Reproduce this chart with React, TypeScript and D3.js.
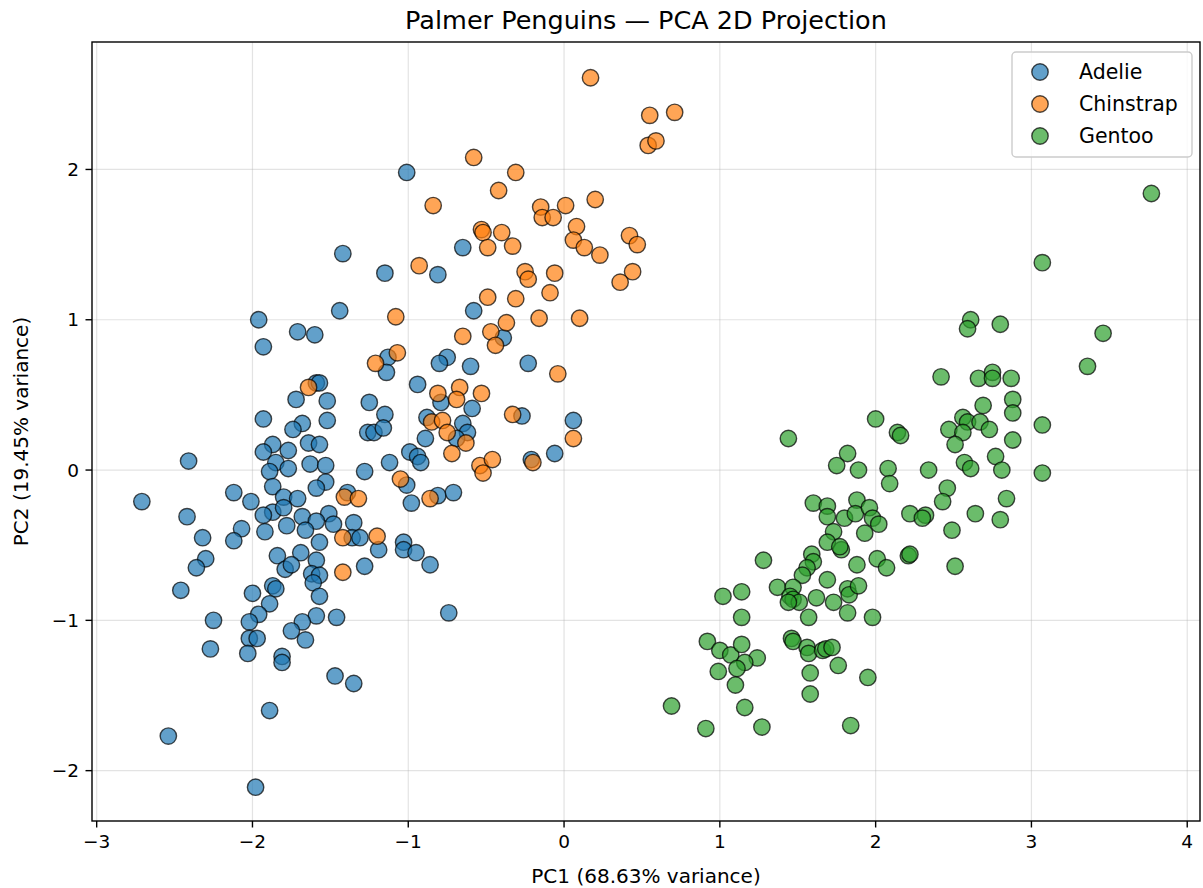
import React from "react";
import * as d3 from "d3";

const speciesNames = ["Adelie", "Chinstrap", "Gentoo"];
const speciesColors = ["#1f77b4", "#ff7f0e", "#2ca02c"];
const xTicks = [-3, -2, -1, 0, 1, 2, 3, 4];
const yTicks = [-2, -1, 0, 1, 2];

const adelie: [number, number][] = [
  [-1.01, 1.98], [-1.42, 1.44], [-1.15, 1.31], [-0.81, 1.30], [-1.44, 1.06], [-0.65, 1.48],
  [-0.58, 1.06], [-0.39, 0.88], [-1.13, 0.75], [-1.14, 0.65], [-0.75, 0.75], [-0.80, 0.71],
  [-0.60, 0.69], [-0.23, 0.71], [-0.94, 0.57], [-1.25, 0.45], [-1.52, 0.46], [-1.15, 0.37],
  [-1.52, 0.33], [-1.26, 0.25], [-1.22, 0.25], [-1.16, 0.28], [-0.88, 0.35], [-0.59, 0.41],
  [-0.79, 0.45], [-0.65, 0.31], [-0.62, 0.25], [-0.69, 0.21], [-0.27, 0.36], [0.06, 0.33],
  [-0.06, 0.11], [-0.21, 0.07], [-0.89, 0.21], [-0.99, 0.12], [-0.94, 0.09], [-0.92, 0.05],
  [-1.12, 0.05], [-1.28, -0.01], [-1.01, -0.10], [-0.98, -0.22], [-0.81, -0.17], [-0.71, -0.15],
  [-1.39, -0.15], [-1.51, -0.29], [-1.48, -0.36], [-1.35, -0.35], [-1.36, -0.45], [-1.31, -0.45],
  [-1.19, -0.53], [-1.03, -0.48], [-1.03, -0.53], [-0.95, -0.55], [-0.86, -0.63], [-1.28, -0.64],
  [-0.74, -0.95], [-1.46, -0.98], [-1.96, 1.00], [-1.71, 0.92], [-1.60, 0.90], [-1.93, 0.82],
  [-1.59, 0.58], [-1.57, 0.58], [-1.72, 0.47], [-1.93, 0.34], [-1.68, 0.31], [-1.74, 0.27],
  [-1.64, 0.18], [-1.57, 0.17], [-1.87, 0.17], [-1.77, 0.13], [-1.93, 0.12], [-1.85, 0.05],
  [-2.41, 0.06], [-1.63, 0.04], [-1.53, 0.03], [-1.77, 0.01], [-1.89, -0.01], [-1.53, -0.08],
  [-1.87, -0.11], [-1.59, -0.12], [-2.12, -0.15], [-2.71, -0.21], [-1.80, -0.18], [-1.71, -0.19],
  [-2.01, -0.21], [-1.87, -0.28], [-1.80, -0.25], [-1.93, -0.30], [-2.42, -0.31], [-1.68, -0.31],
  [-1.59, -0.34], [-1.78, -0.37], [-1.66, -0.40], [-1.92, -0.41], [-2.07, -0.39], [-2.32, -0.45],
  [-2.12, -0.47], [-1.57, -0.48], [-1.84, -0.57], [-1.69, -0.55], [-2.30, -0.59], [-2.36, -0.65],
  [-1.79, -0.66], [-1.75, -0.63], [-1.59, -0.60], [-1.62, -0.69], [-1.57, -0.70], [-1.61, -0.75],
  [-2.46, -0.80], [-2.00, -0.82], [-1.87, -0.77], [-1.85, -0.79], [-1.89, -0.89], [-1.57, -0.84],
  [-1.96, -0.96], [-1.59, -0.97], [-2.25, -1.00], [-2.02, -1.01], [-1.68, -1.01], [-1.75, -1.07],
  [-1.66, -1.13], [-2.02, -1.12], [-1.97, -1.12], [-2.27, -1.19], [-2.03, -1.22], [-1.81, -1.24],
  [-1.81, -1.28], [-1.47, -1.37], [-1.89, -1.60], [-2.54, -1.77], [-1.98, -2.11], [-1.35, -1.42],
];

const chinstrap: [number, number][] = [
  [-0.58, 2.08], [-0.31, 1.98], [-0.42, 1.86], [-0.84, 1.76], [-0.15, 1.75], [0.01, 1.76],
  [-0.14, 1.68], [-0.07, 1.68], [0.20, 1.80], [-0.53, 1.60], [-0.52, 1.58], [-0.40, 1.58],
  [-0.49, 1.48], [-0.33, 1.49], [0.08, 1.62], [0.06, 1.53], [0.13, 1.48], [0.23, 1.43],
  [-0.93, 1.36], [-0.25, 1.32], [-0.23, 1.27], [-0.06, 1.31], [-0.49, 1.15], [-0.31, 1.14],
  [-0.09, 1.18], [-1.08, 1.02], [-0.16, 1.01], [0.10, 1.01], [-0.37, 0.98], [-0.47, 0.92],
  [-0.44, 0.83], [-0.65, 0.89], [-1.21, 0.71], [-1.07, 0.78], [-0.04, 0.64], [-0.81, 0.51],
  [-0.67, 0.55], [-0.53, 0.51], [-0.69, 0.47], [-0.33, 0.37], [0.06, 0.21], [-0.85, 0.32],
  [-0.78, 0.33], [-0.75, 0.25], [-0.63, 0.18], [-0.72, 0.11], [-0.54, 0.03], [-0.46, 0.07],
  [-0.52, -0.02], [-0.20, 0.05], [-1.05, -0.06], [-1.41, -0.18], [-1.32, -0.19], [-0.86, -0.19],
  [-1.20, -0.44], [-1.42, -0.45], [-1.42, -0.68], [0.17, 2.61], [0.55, 2.36], [0.71, 2.38],
  [0.54, 2.16], [0.59, 2.19], [0.42, 1.56], [0.47, 1.50], [0.44, 1.32], [0.36, 1.25],
  [-1.64, 0.55],
];

const gentoo: [number, number][] = [
  [2.00, 0.34], [2.14, 0.25], [2.16, 0.23], [1.44, 0.21], [1.82, 0.11], [1.75, 0.03],
  [1.89, 0.00], [2.08, 0.01], [2.09, -0.09], [1.60, -0.22], [1.69, -0.24], [1.69, -0.31],
  [1.80, -0.32], [1.88, -0.20], [1.87, -0.29], [1.96, -0.25], [1.98, -0.32], [2.02, -0.36],
  [1.93, -0.42], [1.73, -0.41], [1.69, -0.48], [1.78, -0.53], [1.77, -0.51], [1.59, -0.56],
  [1.60, -0.61], [1.56, -0.65], [1.53, -0.70], [1.28, -0.60], [1.88, -0.63], [2.01, -0.59],
  [2.07, -0.65], [1.69, -0.73], [1.37, -0.78], [1.47, -0.78], [1.45, -0.84], [1.47, -0.86],
  [1.51, -0.88], [1.44, -0.88], [1.62, -0.85], [1.82, -0.79], [1.83, -0.83], [1.89, -0.77],
  [1.73, -0.88], [1.82, -0.95], [1.57, -0.98], [1.98, -0.98], [1.14, -0.81], [1.02, -0.84],
  [1.14, -0.98], [0.92, -1.14], [1.00, -1.20], [1.07, -1.23], [1.14, -1.16], [1.24, -1.25],
  [1.16, -1.28], [1.11, -1.32], [0.99, -1.34], [1.10, -1.43], [1.46, -1.12], [1.47, -1.14],
  [1.56, -1.18], [1.57, -1.22], [1.66, -1.20], [1.68, -1.19], [1.72, -1.18], [1.76, -1.30],
  [1.58, -1.35], [1.95, -1.38], [1.58, -1.49], [0.69, -1.57], [1.16, -1.58], [0.91, -1.72],
  [1.27, -1.71], [1.84, -1.70], [3.77, 1.84], [3.07, 1.38], [2.61, 1.00], [2.59, 0.94],
  [2.80, 0.97], [3.46, 0.91], [3.36, 0.69], [2.42, 0.62], [2.66, 0.61], [2.75, 0.65],
  [2.75, 0.61], [2.87, 0.61], [2.88, 0.47], [2.69, 0.43], [2.88, 0.38], [3.07, 0.30],
  [2.56, 0.35], [2.59, 0.32], [2.47, 0.27], [2.56, 0.25], [2.67, 0.32], [2.73, 0.27],
  [2.88, 0.20], [2.51, 0.17], [2.57, 0.05], [2.61, 0.01], [2.77, 0.09], [2.81, 0.00],
  [3.07, -0.02], [2.34, 0.00], [2.46, -0.12], [2.43, -0.21], [2.84, -0.19], [2.64, -0.29],
  [2.80, -0.33], [2.22, -0.29], [2.32, -0.30], [2.30, -0.32], [2.49, -0.40], [2.21, -0.57],
  [2.22, -0.56], [2.51, -0.64],
];

const seriesData = [adelie, chinstrap, gentoo];

const FONT = "'DejaVu Sans', Verdana, sans-serif";
const fmt = (v: number) => String(v).replace("-", "\u2212");

export default function App() {
  const W = 1203;
  const H = 888;
  const L = 92, R = 1200, T = 42, B = 821;
  const x = d3.scaleLinear().domain([-3.03, 4.082]).range([L, R]);
  const y = d3.scaleLinear().domain([-2.335, 2.848]).range([B, T]);
  const r = 8.2;
  const tickFs = 18.5;
  const labelFs = 20;

  return (
    <svg
      width={W}
      height={H}
      style={{ position: "absolute", left: 0, top: 0, background: "#fff" }}
      fontFamily={FONT}
    >
      <rect x={0} y={0} width={W} height={H} fill="#fff" />
      {xTicks.map((t) => (
        <line key={"gx" + t} x1={x(t)} x2={x(t)} y1={T} y2={B} stroke="#b0b0b0" strokeOpacity={0.35} strokeWidth={1.2} />
      ))}
      {yTicks.map((t) => (
        <line key={"gy" + t} x1={L} x2={R} y1={y(t)} y2={y(t)} stroke="#b0b0b0" strokeOpacity={0.35} strokeWidth={1.2} />
      ))}
      {seriesData.map((pts, si) => (
        <g key={speciesNames[si]}>
          {pts.map((p, i) => (
            <circle
              key={i}
              cx={x(p[0])}
              cy={y(p[1])}
              r={r}
              fill={speciesColors[si]}
              fillOpacity={0.7}
              stroke="#000"
              strokeOpacity={0.7}
              strokeWidth={1.4}
            />
          ))}
        </g>
      ))}
      <rect x={L} y={T} width={R - L} height={B - T} fill="none" stroke="#000" strokeWidth={1.4} />
      {xTicks.map((t) => (
        <g key={"xt" + t}>
          <line x1={x(t)} x2={x(t)} y1={B} y2={B + 6.5} stroke="#000" strokeWidth={1.4} />
          <text x={x(t)} y={B + 26.5} textAnchor="middle" fontSize={tickFs} fill="#000">
            {fmt(t)}
          </text>
        </g>
      ))}
      {yTicks.map((t) => (
        <g key={"yt" + t}>
          <line x1={L - 6.5} x2={L} y1={y(t)} y2={y(t)} stroke="#000" strokeWidth={1.4} />
          <text x={L - 13} y={y(t) + 6.5} textAnchor="end" fontSize={tickFs} fill="#000">
            {fmt(t)}
          </text>
        </g>
      ))}
      <text x={(L + R) / 2} y={29} textAnchor="middle" fontSize={25.5} fill="#000">
        Palmer Penguins — PCA 2D Projection
      </text>
      <text x={(L + R) / 2} y={883} textAnchor="middle" fontSize={labelFs} fill="#000">
        PC1 (68.63% variance)
      </text>
      <text
        transform={`translate(28, ${(T + B) / 2}) rotate(-90)`}
        textAnchor="middle"
        fontSize={labelFs}
        fill="#000"
      >
        PC2 (19.45% variance)
      </text>
      <g>
        <rect x={1012} y={52} width={180} height={105} rx={4} fill="#fff" fillOpacity={0.8} stroke="#cccccc" strokeWidth={1.4} />
        {speciesNames.map((s, i) => (
          <g key={s}>
            <circle cx={1040} cy={72 + i * 32} r={r} fill={speciesColors[i]} fillOpacity={0.7} stroke="#000" strokeOpacity={0.7} strokeWidth={1.4} />
            <text x={1079} y={72 + i * 32 + 7} fontSize={20.5} fill="#000">
              {s}
            </text>
          </g>
        ))}
      </g>
    </svg>
  );
}
